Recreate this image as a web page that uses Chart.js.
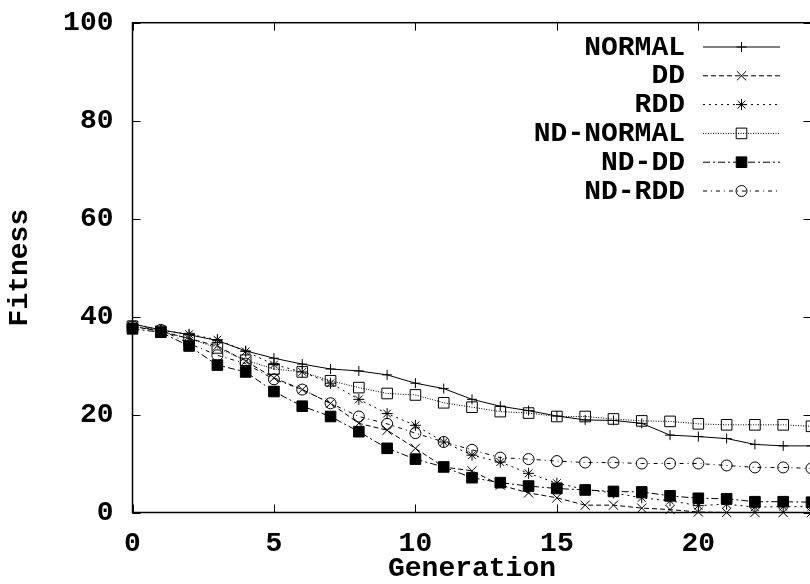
<!DOCTYPE html>
<html>
<head>
<meta charset="utf-8">
<script src="https://cdn.jsdelivr.net/npm/chart.js@4"></script>
<style>
  html, body { margin: 0; padding: 0; background: #fff; overflow: hidden; width: 810px; height: 584px; }
  canvas { display: block; }
</style>
</head>
<body>
<canvas id="chart" width="820" height="584"></canvas>
<script>
const generations = [0,1,2,3,4,5,6,7,8,9,10,11,12,13,14,15,16,17,18,19,20,21,22,23,24];
const yTicks = [0, 20, 40, 60, 80, 100];
const xTicks = [0, 5, 10, 15, 20];

const normal   = [38.5,37.3,36.3,35.1,33.0,31.5,30.3,29.3,28.9,28.1,26.4,25.3,23.1,21.7,20.8,19.7,18.9,18.8,18.2,15.8,15.5,15.1,13.9,13.6,13.6];
const dd       = [38.0,37.0,35.5,34.0,30.9,27.5,25.1,22.3,18.2,16.8,13.1,9.3,8.5,5.6,4.0,3.0,1.5,1.5,0.9,0.6,0.1,0,0,0,0];
const rdd      = [38.5,37.2,36.4,35.3,32.9,30.2,28.7,26.4,23.1,20.2,17.8,14.4,11.7,10.3,8.0,6.0,4.7,4.0,3.0,2.4,1.4,1.7,1.1,1.2,1.2];
const ndNormal = [38.0,37.0,35.5,33.6,31.1,29.3,28.7,26.9,25.5,24.3,24.0,22.4,21.5,20.6,20.3,19.6,19.6,19.1,18.7,18.6,18.1,17.9,17.9,17.9,17.6];
const ndDd     = [37.5,36.8,34.0,30.1,28.7,24.7,21.7,19.6,16.5,13.1,10.9,9.3,7.1,6.1,5.4,4.9,4.6,4.3,4.2,3.4,2.9,2.8,2.2,2.2,2.1];
const ndRdd    = [38.0,37.3,34.5,32.1,30.4,27.2,25.1,22.3,19.6,18.1,16.2,14.4,12.8,11.2,10.9,10.5,10.2,10.2,10.0,10.0,10.0,9.6,9.2,9.2,9.0];

const FONT = "'Liberation Mono', 'Courier New', monospace";
const FSIZE = 28;

function pts(arr) {
  return generations.map((g, i) => ({ x: g, y: arr[i] }));
}

function series(label, arr, dash, style, radius, filled) {
  return {
    label: label,
    data: pts(arr),
    borderColor: '#000',
    borderWidth: 1,
    borderDash: dash,
    pointStyle: style,
    pointRadius: radius,
    pointBorderWidth: 1,
    pointBorderColor: '#000',
    pointBackgroundColor: filled ? '#000' : 'rgba(0,0,0,0)',
    tension: 0,
    clip: false
  };
}

const datasets = [
  series('NORMAL', normal, [], 'cross', 5, false),
  series('DD', dd, [5, 3], 'crossRot', 6.5, false),
  series('RDD', rdd, [2, 4], 'star', 5.5, false),
  series('ND-NORMAL', ndNormal, [1, 1.5], 'rect', 7.5, false),
  series('ND-DD', ndDd, [7, 3, 2, 3], 'rect', 7.5, true),
  series('ND-RDD', ndRdd, [4, 4, 1, 4], 'circle', 5.5, false)
];

// gnuplot style frame, inward ticks and legend
const framePlugin = {
  id: 'frame',
  afterDatasetsDraw(chart) {
    const ctx = chart.ctx;
    const a = chart.chartArea;
    const xs = chart.scales.x, ys = chart.scales.y;
    ctx.save();
    ctx.strokeStyle = '#000';
    ctx.lineWidth = 1.5;
    ctx.strokeRect(a.left, a.top, a.right - a.left, a.bottom - a.top);
    ctx.lineWidth = 1;
    ctx.beginPath();
    xTicks.forEach(v => {
      const px = Math.round(xs.getPixelForValue(v)) + 0.5;
      ctx.moveTo(px, a.bottom); ctx.lineTo(px, a.bottom - 8);
      ctx.moveTo(px, a.top); ctx.lineTo(px, a.top + 8);
    });
    yTicks.forEach(v => {
      const py = Math.round(ys.getPixelForValue(v)) + 0.5;
      ctx.moveTo(a.left, py); ctx.lineTo(a.left + 8, py);
      ctx.moveTo(a.right, py); ctx.lineTo(a.right - 8, py);
    });
    ctx.stroke();

    // legend
    ctx.font = 'bold ' + FSIZE + 'px ' + FONT;
    ctx.textAlign = 'right';
    ctx.textBaseline = 'middle';
    ctx.fillStyle = '#000';
    chart.data.datasets.forEach((ds, i) => {
      const y = 46.5 + i * 28.8;
      ctx.fillText(ds.label, 685, y + 1);
      ctx.beginPath();
      ctx.setLineDash(ds.borderDash);
      ctx.lineWidth = 1;
      ctx.moveTo(703, y + 0.5);
      ctx.lineTo(780, y + 0.5);
      ctx.stroke();
      ctx.setLineDash([]);
      ctx.fillStyle = ds.pointBackgroundColor;
      Chart.helpers.drawPoint(ctx, { pointStyle: ds.pointStyle, radius: ds.pointRadius, borderWidth: 1 }, 741.5, y + 0.5);
      ctx.fillStyle = '#000';
    });
    ctx.restore();
  }
};

new Chart(document.getElementById('chart'), {
  type: 'line',
  data: { datasets: datasets },
  options: {
    responsive: false,
    animation: false,
    layout: { padding: { left: 0, top: 22.7, right: 5.5, bottom: 0 } },
    plugins: {
      legend: { display: false },
      tooltip: { enabled: false }
    },
    scales: {
      x: {
        type: 'linear',
        min: 0,
        max: 24,
        afterBuildTicks: s => { s.ticks = xTicks.map(v => ({ value: v })); },
        afterFit: s => { s.height = 71.5; s.paddingLeft = 0; s.paddingRight = 0; },
        grid: { display: false, drawTicks: false },
        border: { display: false },
        ticks: {
          padding: 15,
          color: '#000',
          font: { family: FONT, size: FSIZE, weight: 'bold' }
        },
        title: {
          display: true,
          text: 'Generation',
          color: '#000',
          padding: { top: 0, bottom: -2 },
          font: { family: FONT, size: FSIZE, weight: 'bold' }
        }
      },
      y: {
        min: 0,
        max: 100,
        afterBuildTicks: s => { s.ticks = yTicks.map(v => ({ value: v })); },
        afterFit: s => { s.width = 132.5; s.paddingTop = 0; s.paddingBottom = 0; },
        grid: { display: false, drawTicks: false },
        border: { display: false },
        ticks: {
          padding: 19,
          color: '#000',
          font: { family: FONT, size: FSIZE, weight: 'bold' }
        },
        title: {
          display: true,
          text: 'Fitness',
          color: '#000',
          padding: { top: 3, bottom: 0 },
          font: { family: FONT, size: FSIZE, weight: 'bold' }
        }
      }
    }
  },
  plugins: [framePlugin]
});
</script>
</body>
</html>
